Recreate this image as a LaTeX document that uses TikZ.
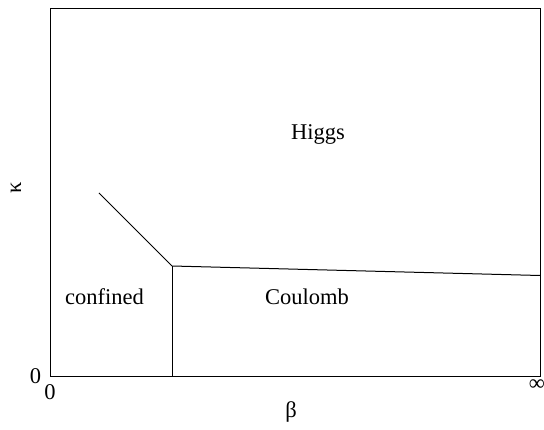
\documentclass[tikz,border=0pt]{standalone}
\usepackage{fontspec}
\setmainfont{Liberation Serif}
\begin{document}
\begin{tikzpicture}[x=1pt,y=-1pt,
  lab/.style={inner sep=0pt,font=\fontsize{22.5}{27}\selectfont},
  edge/.style={line width=1pt,black}]
\useasboundingbox (0,0) rectangle (544,430);
\node[draw,line width=1.2pt,minimum width=490pt,minimum height=368pt,inner sep=0pt,anchor=north west] (box) at (50,8) {};
\coordinate (tl) at (99,193);
\coordinate (tp) at (172,266);
\coordinate (bt) at (172,376);
\coordinate (re) at (540,275.5);
\draw[edge] (tl) -- (tp) -- (re);
\draw[edge] (tp) -- (bt);
\node[lab] (higgs) at (318,134) {Higgs};
\node[lab] (conf) at (104.5,297) {confined};
\node[lab] (coul) at (307,297) {Coulomb};
\node[lab] (z1) at (35.5,376) {0};
\node[lab] (z2) at (50,392) {0};
\node[lab] (inf) at (537,385) {∞};
\node[lab] (beta) at (291,412) {β};
\node[lab,rotate=90] (kappa) at (16,188) {κ};
\end{tikzpicture}
\end{document}
